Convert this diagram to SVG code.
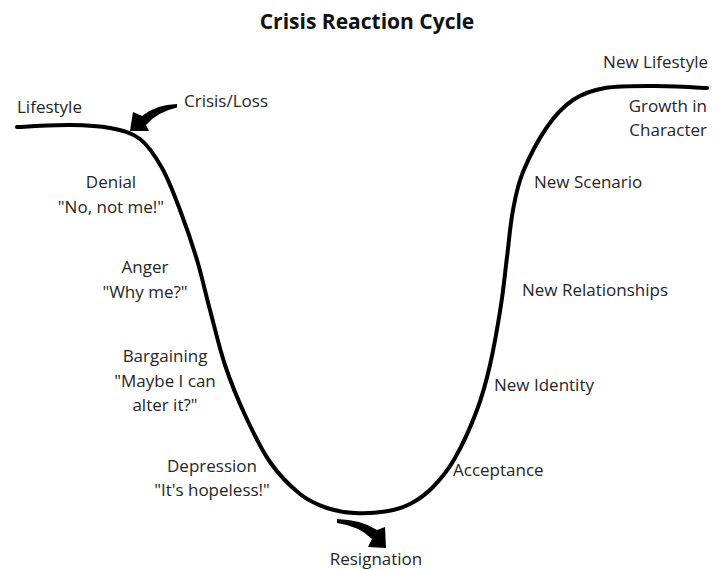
<svg xmlns="http://www.w3.org/2000/svg" width="720" height="569" viewBox="0 0 720 569">
  <style>
    .lbl { font-family: "Open Sans", "Liberation Sans", sans-serif; font-size: 17px; fill: #262626; }
    .mid { text-anchor: middle; }
    .end { text-anchor: end; }
    .title { font-family: "Open Sans", "Liberation Sans", sans-serif; font-size: 21px; font-weight: bold; fill: #111; text-anchor: middle; }
    .curve { fill: none; stroke: #000; stroke-width: 4; stroke-linecap: round; stroke-linejoin: round; }
    .arrow { fill: #000; stroke: none; }
  </style>
  <rect width="720" height="569" fill="#fff"/>
  <g id="title">
    <text class="title" x="367" y="29">Crisis Reaction Cycle</text>
  </g>
  <g id="connectors">
    <path class="curve" d="M17,127 C25.8,126.7 54.5,124.8 70,125 C85.5,125.2 98.3,125.7 110,128 C121.7,130.3 131.3,132.3 140,139 C148.7,145.7 155.3,156.2 162,168 C168.7,179.8 174.2,194.7 180,210 C185.8,225.3 192,243.3 197,260 C202,276.7 205.3,292.5 210,310 C214.7,327.5 219.2,347.5 225,365 C230.8,382.5 237.5,398.8 245,415 C252.5,431.2 260.8,448.8 270,462 C279.2,475.2 290.5,486.3 300,494 C309.5,501.7 317.8,504.8 327,508 C336.2,511.2 345.3,512.4 355,513 C364.7,513.6 375.8,513 385,511.5 C394.2,510 402,508.1 410,504 C418,499.9 425.5,494.7 433,487 C440.5,479.3 447.7,470.8 455,458 C462.3,445.2 471.2,425.5 477,410 C482.8,394.5 486,382.5 490,365 C494,347.5 498.2,323 501,305 C503.8,287 505,272.8 507,257 C509,241.2 510.3,224.2 513,210 C515.7,195.8 517.3,185.8 523,172 C528.7,158.2 538.7,139 547,127 C555.3,115 563.3,106.5 573,100 C582.7,93.5 591.3,90.3 605,88 C618.7,85.7 638,86 655,86 C672,86 698.3,87.7 707,88"/>
    <path id="arrow-crisis" class="arrow" d="M177,104 Q156,104.5 142,116 L133,112 L130,131 L149,131 L146,125 Q157,112 177,107.5 Z"/>
    <path id="arrow-resignation" class="arrow" d="M337,519 Q361,519.5 377,530 L385,527 L386,548 L368,547 L372,539 Q359,526 337,523 Z"/>
  </g>
  <g id="node-lifestyle"><text class="lbl" x="17" y="113">Lifestyle</text></g>
  <g id="node-crisis"><text class="lbl" x="184" y="107">Crisis/Loss</text></g>
  <g id="node-denial">
    <text class="lbl mid" x="111" y="188">Denial</text>
    <text class="lbl mid" x="111" y="213">"No, not me!"</text>
  </g>
  <g id="node-anger">
    <text class="lbl mid" x="145" y="273">Anger</text>
    <text class="lbl mid" x="145" y="298">"Why me?"</text>
  </g>
  <g id="node-bargaining">
    <text class="lbl mid" x="165" y="362">Bargaining</text>
    <text class="lbl mid" x="165" y="387">"Maybe I can</text>
    <text class="lbl mid" x="165" y="411">alter it?"</text>
  </g>
  <g id="node-depression">
    <text class="lbl mid" x="212" y="472">Depression</text>
    <text class="lbl mid" x="212" y="496">"It's hopeless!"</text>
  </g>
  <g id="node-resignation"><text class="lbl mid" x="376" y="565">Resignation</text></g>
  <g id="node-acceptance"><text class="lbl" x="453" y="476">Acceptance</text></g>
  <g id="node-identity"><text class="lbl" x="494" y="391">New Identity</text></g>
  <g id="node-relationships"><text class="lbl" x="522" y="296">New Relationships</text></g>
  <g id="node-scenario"><text class="lbl" x="534" y="188">New Scenario</text></g>
  <g id="node-growth">
    <text class="lbl end" x="707" y="112">Growth in</text>
    <text class="lbl end" x="707" y="136">Character</text>
  </g>
  <g id="node-newlifestyle"><text class="lbl end" x="708" y="68">New Lifestyle</text></g>
</svg>
